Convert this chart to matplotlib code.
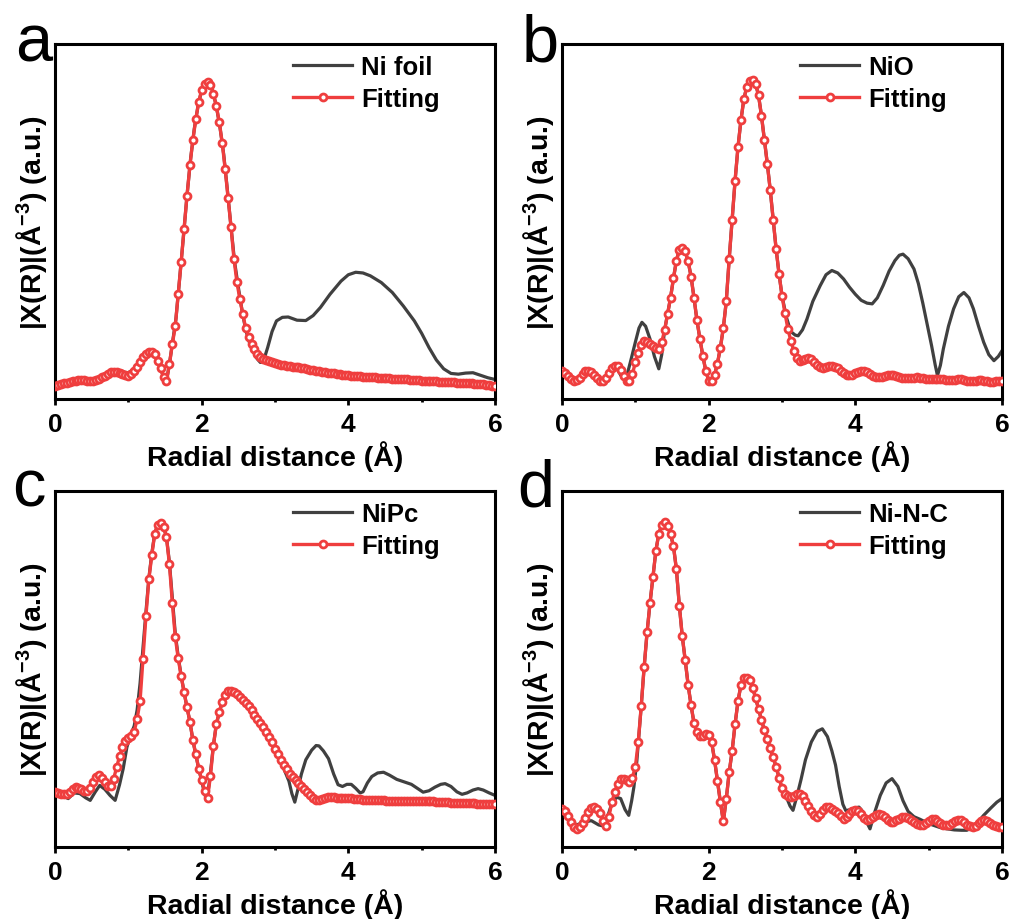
import numpy as np
import matplotlib
matplotlib.use("Agg")
import matplotlib.pyplot as plt
from matplotlib.ticker import MultipleLocator

plt.rcParams['font.family'] = ['Liberation Sans', 'DejaVu Sans']
plt.rcParams['font.weight'] = 'bold'
plt.rcParams['mathtext.fontset'] = 'custom'
plt.rcParams['mathtext.rm'] = 'Liberation Sans:bold'
plt.rcParams['mathtext.default'] = 'rm'

# fitted curves share one R grid (0.04 A step)
R_FIT = np.round(np.arange(151) * 0.04, 2)

# ---- Ni foil ----
R_FOIL = [0.00, 0.20, 0.35, 0.50, 0.60, 0.70, 0.80, 0.90, 1.00, 1.10, 1.20, 1.30, 1.36, 1.42,
          1.48, 1.52, 1.56, 1.60, 1.65, 1.70, 1.75, 1.80, 1.85, 1.90, 1.95, 2.00, 2.05, 2.10,
          2.15, 2.20, 2.25, 2.30, 2.35, 2.40, 2.45, 2.50, 2.55, 2.60, 2.65, 2.70, 2.75, 2.80,
          2.84, 2.90, 2.96, 3.02, 3.10, 3.18, 3.30, 3.42, 3.52, 3.62, 3.75, 3.90, 4.00, 4.10,
          4.20, 4.30, 4.45, 4.60, 4.75, 4.90, 5.00, 5.10, 5.20, 5.30, 5.40, 5.50, 5.60, 5.70,
          5.80, 5.90, 6.00]
FT_FOIL = [0.38, 0.47, 0.54, 0.52, 0.56, 0.68, 0.78, 0.76, 0.74, 0.88, 1.17, 1.33, 1.26, 0.98,
           0.62, 0.50, 0.98, 1.55, 2.28, 3.40, 4.55, 5.73, 6.78, 7.62, 8.25, 8.70, 8.90, 8.92,
           8.68, 8.25, 7.65, 6.90, 5.90, 4.85, 3.85, 3.15, 2.50, 1.95, 1.60, 1.35, 1.15, 1.03,
           1.05, 1.45, 1.90, 2.20, 2.30, 2.31, 2.22, 2.21, 2.35, 2.58, 2.95, 3.32, 3.50, 3.57,
           3.55, 3.47, 3.28, 3.00, 2.62, 2.20, 1.85, 1.45, 1.10, 0.85, 0.72, 0.70, 0.73, 0.74,
           0.67, 0.60, 0.55]
FIT_FOIL = [0.38, 0.40, 0.42, 0.44, 0.46, 0.47, 0.50, 0.52, 0.54, 0.54,
            0.53, 0.52, 0.52, 0.52, 0.54, 0.56, 0.61, 0.66, 0.71, 0.75,
            0.77, 0.77, 0.74, 0.71, 0.68, 0.66, 0.70, 0.80, 0.91, 1.04,
            1.17, 1.26, 1.32, 1.33, 1.26, 1.08, 0.86, 0.62, 0.50, 0.98,
            1.55, 2.05, 2.95, 3.85, 4.80, 5.73, 6.58, 7.30, 7.88, 8.38,
            8.70, 8.88, 8.93, 8.85, 8.60, 8.25, 7.80, 7.22, 6.48, 5.65,
            4.85, 3.95, 3.30, 2.82, 2.40, 2.00, 1.74, 1.55, 1.40, 1.27,
            1.19, 1.13, 1.09, 1.06, 1.03, 1.01, 0.99, 0.97, 0.96, 0.94,
            0.93, 0.91, 0.90, 0.89, 0.87, 0.86, 0.84, 0.83, 0.81, 0.80,
            0.78, 0.77, 0.75, 0.74, 0.73, 0.72, 0.71, 0.70, 0.69, 0.68,
            0.67, 0.66, 0.65, 0.65, 0.64, 0.63, 0.63, 0.62, 0.61, 0.61,
            0.60, 0.59, 0.59, 0.58, 0.58, 0.57, 0.57, 0.56, 0.56, 0.55,
            0.55, 0.54, 0.54, 0.53, 0.53, 0.52, 0.52, 0.51, 0.51, 0.50,
            0.50, 0.49, 0.49, 0.48, 0.48, 0.47, 0.47, 0.46, 0.46, 0.45,
            0.45, 0.44, 0.44, 0.43, 0.43, 0.42, 0.41, 0.40, 0.39, 0.38,
            0.37]

# ---- NiO ----
R_NIO = [0.00, 0.10, 0.18, 0.27, 0.36, 0.45, 0.55, 0.64, 0.73, 0.82, 0.88, 0.94, 1.00, 1.05,
         1.09, 1.14, 1.20, 1.26, 1.32, 1.36, 1.40, 1.44, 1.48, 1.52, 1.56, 1.60, 1.64, 1.68,
         1.72, 1.76, 1.80, 1.84, 1.88, 1.92, 1.96, 2.00, 2.04, 2.08, 2.12, 2.16, 2.20, 2.24,
         2.28, 2.32, 2.36, 2.40, 2.44, 2.48, 2.52, 2.56, 2.60, 2.64, 2.68, 2.72, 2.76, 2.80,
         2.84, 2.88, 2.92, 2.96, 3.00, 3.06, 3.12, 3.18, 3.22, 3.28, 3.34, 3.42, 3.52, 3.60,
         3.68, 3.76, 3.84, 3.92, 4.00, 4.08, 4.16, 4.23, 4.30, 4.38, 4.46, 4.54, 4.60, 4.65,
         4.72, 4.80, 4.86, 4.92, 4.98, 5.04, 5.09, 5.12, 5.16, 5.20, 5.27, 5.34, 5.41, 5.48,
         5.55, 5.61, 5.68, 5.75, 5.82, 5.89, 5.95, 6.00]
FT_NIO = [0.78, 0.60, 0.52, 0.66, 0.80, 0.66, 0.49, 0.70, 0.93, 0.60, 0.62, 1.10, 1.60, 2.00,
          2.16, 2.05, 1.69, 1.20, 0.85, 1.25, 1.95, 2.40, 2.85, 3.40, 3.90, 4.20, 4.25, 4.16,
          3.88, 3.45, 2.85, 2.22, 1.70, 1.22, 0.80, 0.52, 0.52, 0.68, 1.00, 1.45, 2.00, 2.75,
          3.95, 5.05, 6.15, 7.10, 7.85, 8.45, 8.80, 8.97, 9.00, 8.88, 8.55, 7.98, 7.30, 6.62,
          5.88, 5.05, 4.22, 3.52, 2.91, 2.30, 1.90, 1.80, 1.78, 1.95, 2.25, 2.75, 3.19, 3.50,
          3.62, 3.55, 3.38, 3.15, 2.95, 2.78, 2.70, 2.68, 2.85, 3.20, 3.60, 3.90, 4.05, 4.08,
          3.95, 3.66, 3.25, 2.70, 2.10, 1.50, 0.95, 0.66, 0.95, 1.41, 2.05, 2.54, 2.88, 3.00,
          2.85, 2.54, 2.05, 1.60, 1.25, 1.08, 1.20, 1.36]
FIT_NIO = [0.78, 0.72, 0.64, 0.57, 0.52, 0.53, 0.60, 0.70, 0.78, 0.80,
           0.76, 0.68, 0.58, 0.51, 0.50, 0.58, 0.72, 0.86, 0.93, 0.92,
           0.82, 0.66, 0.52, 0.50, 0.70, 1.03, 1.30, 1.52, 1.62, 1.60,
           1.55, 1.50, 1.45, 1.42, 1.60, 1.95, 2.40, 2.85, 3.40, 3.90,
           4.20, 4.25, 4.16, 3.88, 3.45, 2.85, 2.22, 1.70, 1.22, 0.80,
           0.52, 0.52, 0.68, 1.00, 1.45, 2.00, 2.75, 3.95, 5.05, 6.15,
           7.10, 7.85, 8.45, 8.80, 8.97, 9.00, 8.88, 8.55, 7.98, 7.30,
           6.62, 5.88, 5.05, 4.22, 3.52, 2.91, 2.42, 1.98, 1.64, 1.36,
           1.15, 1.08, 1.10, 1.14, 1.15, 1.12, 1.04, 0.95, 0.90, 0.88,
           0.90, 0.92, 0.93, 0.91, 0.86, 0.78, 0.72, 0.68, 0.67, 0.69,
           0.73, 0.76, 0.78, 0.78, 0.75, 0.70, 0.65, 0.62, 0.61, 0.62,
           0.65, 0.67, 0.68, 0.68, 0.66, 0.63, 0.60, 0.58, 0.58, 0.59,
           0.60, 0.61, 0.60, 0.58, 0.56, 0.55, 0.55, 0.56, 0.57, 0.57,
           0.56, 0.54, 0.53, 0.53, 0.54, 0.55, 0.55, 0.54, 0.52, 0.51,
           0.51, 0.52, 0.53, 0.53, 0.52, 0.50, 0.49, 0.49, 0.50, 0.51,
           0.50]

# ---- NiPc ----
R_NIPC = [0.00, 0.10, 0.18, 0.26, 0.34, 0.42, 0.48, 0.55, 0.61, 0.68, 0.75, 0.82, 0.88, 0.93,
          0.98, 1.02, 1.08, 1.12, 1.16, 1.20, 1.24, 1.28, 1.32, 1.36, 1.40, 1.44, 1.48, 1.52,
          1.56, 1.60, 1.64, 1.68, 1.72, 1.76, 1.80, 1.84, 1.88, 1.92, 1.96, 2.00, 2.04, 2.07,
          2.11, 2.16, 2.20, 2.25, 2.30, 2.35, 2.40, 2.46, 2.52, 2.60, 2.70, 2.80, 2.90, 3.00,
          3.08, 3.14, 3.19, 3.23, 3.27, 3.31, 3.36, 3.42, 3.50, 3.56, 3.60, 3.66, 3.73, 3.80,
          3.86, 3.92, 3.98, 4.04, 4.10, 4.16, 4.20, 4.26, 4.32, 4.40, 4.48, 4.56, 4.66, 4.76,
          4.86, 4.94, 5.02, 5.10, 5.18, 5.26, 5.32, 5.40, 5.48, 5.55, 5.62, 5.70, 5.77, 5.84,
          5.92, 6.00]
FT_NIPC = [1.54, 1.45, 1.36, 1.52, 1.50, 1.38, 1.31, 1.55, 1.73, 1.62, 1.45, 1.31, 1.75, 2.20,
           2.80, 3.08, 3.40, 3.85, 4.60, 5.60, 6.60, 7.55, 8.25, 8.80, 9.05, 9.11, 9.02, 8.70,
           8.00, 7.00, 6.00, 5.35, 4.82, 4.35, 3.92, 3.52, 3.00, 2.60, 2.20, 1.85, 1.50, 1.30,
           1.90, 2.85, 3.45, 3.85, 4.18, 4.36, 4.39, 4.33, 4.22, 4.05, 3.78, 3.48, 3.17, 2.76,
           2.40, 2.10, 1.85, 1.50, 1.26, 1.60, 2.05, 2.45, 2.72, 2.85, 2.84, 2.70, 2.48, 2.05,
           1.75, 1.70, 1.76, 1.76, 1.65, 1.52, 1.55, 1.80, 1.98, 2.08, 2.10, 2.02, 1.90, 1.83,
           1.76, 1.65, 1.54, 1.58, 1.68, 1.76, 1.78, 1.70, 1.55, 1.48, 1.52, 1.60, 1.64, 1.60,
           1.52, 1.45]
FIT_NIPC = [1.54, 1.52, 1.50, 1.49, 1.50, 1.54, 1.62, 1.68, 1.67, 1.62,
            1.56, 1.56, 1.66, 1.82, 1.96, 2.01, 1.95, 1.82, 1.72, 1.70,
            1.92, 2.24, 2.55, 2.80, 2.98, 3.06, 3.12, 3.24, 3.60, 4.10,
            5.28, 6.48, 7.52, 8.20, 8.80, 9.05, 9.11, 9.00, 8.70, 7.95,
            6.85, 5.90, 5.30, 4.80, 4.35, 3.92, 3.52, 3.00, 2.60, 2.20,
            1.88, 1.58, 1.38, 2.00, 2.85, 3.45, 3.80, 4.08, 4.28, 4.37,
            4.39, 4.36, 4.30, 4.22, 4.14, 4.05, 3.95, 3.84, 3.72, 3.60,
            3.48, 3.36, 3.24, 3.10, 2.94, 2.76, 2.60, 2.44, 2.30, 2.18,
            2.06, 1.96, 1.88, 1.80, 1.72, 1.64, 1.55, 1.46, 1.38, 1.32,
            1.32, 1.35, 1.38, 1.40, 1.41, 1.40, 1.38, 1.37, 1.37, 1.38,
            1.38, 1.37, 1.36, 1.35, 1.34, 1.33, 1.32, 1.32, 1.32, 1.31,
            1.31, 1.31, 1.31, 1.30, 1.30, 1.30, 1.30, 1.30, 1.29, 1.29,
            1.29, 1.29, 1.29, 1.29, 1.28, 1.28, 1.28, 1.28, 1.28, 1.28,
            1.27, 1.27, 1.26, 1.26, 1.26, 1.25, 1.25, 1.25, 1.24, 1.24,
            1.24, 1.23, 1.23, 1.23, 1.22, 1.22, 1.22, 1.22, 1.21, 1.21,
            1.21]

# ---- Ni-N-C ----
R_NNC = [0.00, 0.10, 0.20, 0.30, 0.40, 0.50, 0.58, 0.66, 0.74, 0.80, 0.86, 0.91, 0.95, 0.98,
         1.02, 1.08, 1.12, 1.16, 1.20, 1.24, 1.28, 1.32, 1.36, 1.40, 1.44, 1.48, 1.52, 1.56,
         1.60, 1.64, 1.68, 1.72, 1.76, 1.80, 1.84, 1.88, 1.92, 1.96, 2.00, 2.04, 2.08, 2.12,
         2.16, 2.20, 2.24, 2.28, 2.32, 2.36, 2.40, 2.44, 2.48, 2.52, 2.56, 2.60, 2.64, 2.70,
         2.76, 2.84, 2.92, 3.00, 3.06, 3.11, 3.15, 3.20, 3.26, 3.32, 3.40, 3.48, 3.55, 3.62,
         3.68, 3.73, 3.78, 3.83, 3.87, 3.93, 4.00, 4.05, 4.10, 4.15, 4.20, 4.26, 4.34, 4.42,
         4.50, 4.58, 4.65, 4.72, 4.80, 4.88, 4.96, 5.05, 5.15, 5.25, 5.35, 5.45, 5.52, 5.60,
         5.68, 5.75, 5.85, 5.93, 6.00]
FT_NNC = [1.00, 0.78, 0.62, 0.70, 0.74, 0.62, 0.58, 1.10, 1.40, 1.36, 1.05, 0.89, 1.30, 1.68,
          2.40, 3.95, 5.05, 6.03, 6.85, 7.58, 8.32, 8.80, 9.05, 9.13, 9.02, 8.79, 8.45, 7.80,
          6.78, 5.92, 5.25, 4.55, 3.98, 3.48, 3.22, 3.12, 3.12, 3.17, 3.15, 2.95, 2.45, 1.85,
          1.26, 0.72, 1.35, 2.10, 2.70, 3.45, 4.10, 4.55, 4.75, 4.76, 4.68, 4.48, 4.18, 3.72,
          3.28, 2.78, 2.25, 1.65, 1.40, 1.15, 1.03, 1.40, 1.90, 2.45, 2.95, 3.25, 3.32, 3.10,
          2.70, 2.30, 1.70, 1.20, 1.02, 1.05, 1.10, 1.12, 1.00, 0.72, 0.51, 0.95, 1.45, 1.80,
          1.92, 1.70, 1.30, 1.00, 0.85, 0.78, 0.70, 0.62, 0.55, 0.51, 0.48, 0.47, 0.47, 0.55,
          0.72, 0.89, 1.10, 1.26, 1.36]
FIT_NNC = [1.08, 1.00, 0.86, 0.70, 0.57, 0.51, 0.56, 0.68, 0.82, 0.98,
           1.09, 1.12, 1.06, 0.96, 0.74, 0.58, 0.85, 1.26, 1.55, 1.78,
           1.90, 1.92, 1.88, 1.82, 1.95, 2.25, 2.95, 3.95, 5.05, 6.03,
           6.85, 7.58, 8.32, 8.80, 9.05, 9.13, 9.02, 8.79, 8.45, 7.80,
           6.78, 5.92, 5.25, 4.55, 3.98, 3.48, 3.22, 3.12, 3.12, 3.17,
           3.15, 2.95, 2.45, 1.85, 1.26, 0.72, 1.35, 2.10, 2.70, 3.45,
           4.10, 4.55, 4.75, 4.76, 4.68, 4.48, 4.18, 3.88, 3.56, 3.28,
           3.02, 2.78, 2.52, 2.25, 1.95, 1.65, 1.50, 1.42, 1.40, 1.44,
           1.50, 1.50, 1.42, 1.28, 1.15, 1.02, 0.90, 0.85, 0.92, 1.05,
           1.12, 1.12, 1.08, 1.02, 0.95, 0.86, 0.80, 0.84, 0.93, 1.01,
           1.03, 1.00, 0.92, 0.82, 0.76, 0.78, 0.85, 0.91, 0.93, 0.90,
           0.83, 0.75, 0.70, 0.71, 0.75, 0.80, 0.84, 0.84, 0.81, 0.75,
           0.69, 0.64, 0.61, 0.62, 0.67, 0.74, 0.79, 0.78, 0.73, 0.67,
           0.62, 0.61, 0.63, 0.68, 0.74, 0.77, 0.75, 0.69, 0.63, 0.58,
           0.56, 0.60, 0.67, 0.73, 0.75, 0.72, 0.67, 0.62, 0.59, 0.57,
           0.56]

SAMPLES = ['Ni foil', 'NiO', 'NiPc', 'Ni-N-C']
LETTERS = ['a', 'b', 'c', 'd']

DATA_R = [R_FOIL, R_NIO, R_NIPC, R_NNC]
DATA_FT = [FT_FOIL, FT_NIO, FT_NIPC, FT_NNC]
FITS = [FIT_FOIL, FIT_NIO, FIT_NIPC, FIT_NNC]

GREY = '#404040'
RED = '#EF3E3E'

W, H = 1014, 920
fig = plt.figure(figsize=(W / 100, H / 100), dpi=100)

# axes boxes in pixels: left, top, right, bottom
boxes = [(55, 45, 495, 400), (562, 45, 1002, 400),
         (55, 492, 495, 848), (562, 492, 1002, 848)]
letter_pos = [(15, 62), (522, 62), (12, 507), (517, 507)]

for i in range(4):
    l, t, r, b = boxes[i]
    ax = fig.add_axes([l / W, 1 - b / H, (r - l) / W, (b - t) / H])

    ax.plot(DATA_R[i], DATA_FT[i], color=GREY, lw=2.3, label=SAMPLES[i], zorder=2)
    ax.plot(R_FIT, FITS[i], color=RED, lw=2.4, marker='o', ms=5.0, mfc='white',
            mec=RED, mew=2.0, label='Fitting', zorder=3)

    ax.set_xlim(0, 6)
    ax.set_ylim(0, 10)
    ax.xaxis.set_major_locator(MultipleLocator(2))
    ax.xaxis.set_minor_locator(MultipleLocator(1))
    ax.set_yticks([])
    ax.tick_params(axis='x', which='major', direction='out', length=4.3, width=2,
                   labelsize=19, pad=5)
    ax.tick_params(axis='x', which='minor', direction='out', length=2.2, width=2)
    for sp in ax.spines.values():
        sp.set_linewidth(2.2)

    ax.set_xlabel('Radial distance (Å)', fontsize=20.5, fontweight='bold', labelpad=3)
    ax.set_ylabel('|X(R)|(Å$^{-3}$) (a.u.)', fontsize=20.5, fontweight='bold', labelpad=4)

    ax.legend(loc='upper left', bbox_to_anchor=(0.541, 0.969), frameon=False,
              fontsize=18.5, handlelength=2.3, handletextpad=0.35, labelspacing=0.3,
              borderpad=0, borderaxespad=0)

    lx, ly = letter_pos[i]
    fig.text(lx / W, 1 - ly / H, LETTERS[i], fontsize=48, fontweight='normal',
             ha='left', va='baseline')

fig.savefig('out.png', dpi=100)
